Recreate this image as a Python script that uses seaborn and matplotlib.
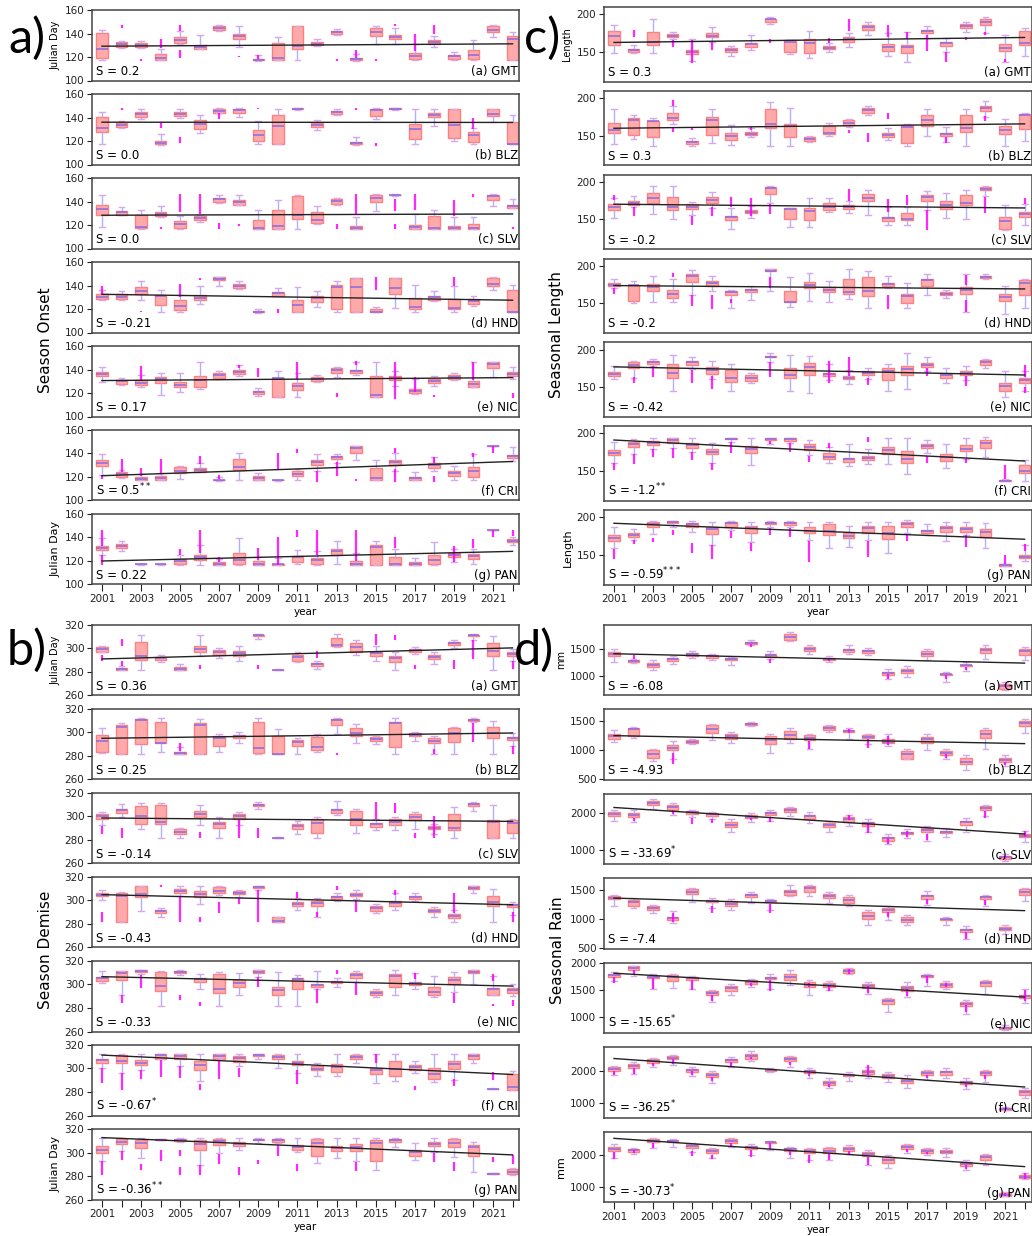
import numpy as np
import pandas as pd
import seaborn as sns
import matplotlib.pyplot as plt

YEARS = list(range(2001, 2023))
REGIONS = ["GMT", "BLZ", "SLV", "HND", "NIC", "CRI", "PAN"]
LETTERS = ["a", "b", "c", "d", "e", "f", "g"]

# every box row: (lower whisker, q1, median, q3, upper whisker), one per year 2001..2022
# flier lists: (year, low, high) extent of the magenta outlier streaks

# ---------------- a) season onset ----------------
ON_GMT = [(117.7, 118.9, 127.0, 140.6, 143.4), (128.0, 128.6, 131.0, 132.6, 134.0), (128.0, 128.6, 130.5, 132.3, 134.0),
          (117.5, 117.7, 119.4, 122.3, 127.0), (131.0, 132.3, 134.3, 136.6, 142.3), (126.5, 127.1, 128.6, 130.0, 138.6),
          (142.3, 142.9, 144.6, 146.3, 147.0), (128.6, 135.7, 137.7, 140.0, 146.3), (117.0, 117.1, 117.4, 118.0, 121.7),
          (117.5, 117.7, 119.1, 132.3, 136.6), (117.7, 127.1, 129.0, 146.3, 146.5), (129.5, 130.0, 131.4, 132.6, 135.7),
          (139.0, 139.4, 140.9, 142.0, 143.7), (117.0, 117.1, 118.3, 119.4, 122.9), (131.4, 138.0, 140.9, 144.6, 146.6),
          (131.4, 134.9, 137.1, 138.6, 144.3), (117.5, 118.6, 120.9, 123.4, 131.4), (128.6, 131.1, 133.1, 134.3, 137.7),
          (117.5, 118.6, 120.6, 122.0, 124.3), (117.5, 118.0, 121.4, 125.7, 134.3), (136.6, 140.9, 142.9, 146.6, 147.0),
          (117.5, 117.7, 135.1, 137.7, 141.4)]
ON_GMT_FL = [(2002, 145, 147), (2003, 117, 118), (2004, 128, 135), (2005, 142, 147), (2005, 119, 126), (2008, 120, 121),
             (2009, 118, 122), (2013, 117, 118), (2014, 119, 126), (2015, 117, 118), (2016, 146, 148), (2017, 125, 140),
             (2018, 140, 147)]
ON_BLZ = [(117.4, 127.9, 130.7, 140.1, 144.7), (131.0, 131.6, 133.3, 135.0, 137.3), (138.4, 140.1, 143.0, 144.7, 146.9),
          (117.0, 117.4, 118.5, 119.7, 125.9), (140.0, 141.2, 143.0, 144.7, 146.9), (126.5, 130.5, 134.1, 137.8, 142.1),
          (143.5, 144.1, 145.8, 147.5, 147.8), (140.1, 144.1, 146.1, 147.5, 147.8), (117.4, 119.9, 125.3, 129.3, 137.3),
          (117.4, 117.5, 133.0, 142.1, 146.9), (146.8, 146.9, 147.3, 147.8, 148.0), (129.3, 132.2, 133.6, 135.0, 137.8),
          (142.0, 143.0, 144.4, 145.8, 146.9), (117.0, 117.4, 118.0, 118.8, 123.6), (139.0, 141.2, 146.4, 147.5, 147.8),
          (146.8, 146.9, 147.3, 147.8, 148.0), (117.4, 121.4, 129.9, 134.1, 146.9), (132.7, 140.1, 142.1, 143.5, 146.9),
          (120.2, 122.8, 134.0, 146.9, 147.5), (117.4, 119.4, 125.3, 127.9, 130.7), (136.4, 141.2, 143.0, 146.9, 147.5),
          (117.4, 117.5, 117.6, 136.1, 142.1)]
ON_BLZ_FL = [(2002, 146, 148), (2004, 130.7, 136.4), (2005, 118.5, 123.6), (2007, 139, 143.5), (2009, 147, 148),
             (2014, 146, 148), (2015, 116, 118), (2020, 130, 140)]
ON_SLV = [(118.0, 128.6, 133.7, 136.6, 145.7), (128.5, 128.9, 130.9, 132.3, 135.1), (117.0, 117.4, 118.3, 128.6, 133.1),
          (127.0, 127.4, 129.4, 130.9, 136.0), (117.0, 117.4, 120.9, 123.1, 128.0), (122.3, 124.6, 126.0, 128.0, 128.6),
          (139.0, 139.4, 142.0, 143.4, 145.7), (137.0, 137.4, 139.4, 141.4, 145.7), (116.6, 116.7, 117.4, 124.3, 133.1),
          (116.6, 116.7, 118.9, 132.9, 141.7), (116.6, 125.1, 128.9, 144.3, 145.7), (121.0, 121.4, 124.3, 130.9, 136.0),
          (137.0, 138.0, 140.3, 142.3, 143.4), (116.6, 116.7, 117.6, 118.9, 126.6), (132.3, 140.0, 143.4, 145.7, 146.0),
          (145.0, 145.3, 145.5, 145.8, 146.0), (116.6, 116.7, 118.3, 120.0, 129.4), (116.6, 116.7, 117.4, 128.0, 133.1),
          (116.6, 116.7, 117.8, 119.4, 126.6), (116.6, 116.7, 117.8, 120.9, 126.6), (136.0, 141.4, 145.1, 145.7, 146.0),
          (134.3, 134.4, 136.0, 137.4, 142.3)]
ON_SLV_FL = [(2004, 116.5, 118), (2005, 131, 146.6), (2006, 129, 146.6), (2007, 116.5, 122), (2008, 119, 121),
             (2013, 117, 121), (2014, 129, 146), (2016, 132, 142), (2016, 117, 121), (2017, 133, 146.6),
             (2019, 128, 141), (2020, 143.7, 146.6), (2022, 116.6, 118.3)]
ON_HND = [(127.7, 128.6, 130.6, 132.6, 136.3), (127.7, 128.6, 130.6, 132.6, 135.4), (127.7, 132.6, 135.7, 138.9, 144.0),
          (117.7, 123.4, 131.4, 132.0, 136.3), (117.7, 119.1, 122.3, 127.7, 132.0), (124.0, 127.7, 129.7, 132.0, 140.0),
          (140.0, 144.3, 145.7, 146.9, 147.5), (137.0, 137.7, 139.7, 141.1, 144.0), (117.0, 117.1, 117.7, 118.6, 120.0),
          (131.0, 131.1, 133.4, 134.6, 137.7), (117.1, 117.7, 123.4, 127.7, 138.3), (122.0, 126.3, 129.7, 131.1, 134.9),
          (117.1, 120.0, 138.3, 140.6, 144.0), (117.1, 117.2, 138.3, 146.3, 146.4), (117.1, 117.2, 117.7, 120.0, 121.4),
          (121.1, 133.1, 137.7, 146.3, 146.4), (117.1, 120.0, 121.4, 129.1, 140.6), (126.9, 127.7, 130.0, 131.4, 134.9),
          (117.1, 119.7, 121.1, 128.3, 140.0), (122.9, 124.0, 126.9, 128.3, 130.9), (136.3, 140.0, 141.7, 146.0, 146.9),
          (117.1, 117.2, 117.3, 136.0, 140.6)]
ON_HND_FL = [(2001, 133, 140), (2003, 117.5, 118.5), (2005, 130, 141), (2006, 145, 146), (2010, 116.6, 120),
             (2015, 136, 147), (2019, 140, 147)]
ON_NIC = [(129.4, 134.6, 136.3, 138.0, 142.3), (126.5, 128.0, 130.0, 131.4, 133.1), (125.1, 127.1, 128.9, 130.9, 135.1),
          (118.6, 128.9, 131.7, 133.4, 137.4), (120.9, 125.1, 127.1, 129.4, 136.6), (123.7, 125.1, 130.9, 134.3, 146.6),
          (132.3, 132.9, 135.1, 136.6, 138.6), (134.6, 136.0, 138.0, 139.4, 143.7), (117.4, 119.1, 120.6, 121.4, 124.3),
          (116.6, 116.7, 132.9, 133.1, 139.1), (116.6, 122.3, 126.0, 128.9, 137.4), (129.4, 130.0, 132.3, 133.4, 134.9),
          (134.0, 137.4, 139.7, 140.9, 142.3), (135.7, 136.6, 138.3, 139.4, 146.6), (116.6, 116.7, 118.0, 134.3, 146.6),
          (126.0, 130.9, 132.9, 134.3, 138.6), (119.4, 120.3, 122.0, 123.1, 132.3), (126.0, 128.9, 130.3, 131.7, 134.3),
          (131.4, 132.3, 134.0, 135.1, 136.6), (125.0, 125.1, 128.0, 130.0, 146.0), (133.7, 140.9, 145.1, 146.0, 146.6),
          (132.3, 134.6, 136.3, 138.0, 142.3)]
ON_NIC_FL = [(2003, 131, 143), (2008, 141, 144), (2009, 134, 141), (2011, 131, 146.6), (2013, 117, 120),
             (2014, 144, 147), (2016, 115, 146.6), (2017, 121, 134), (2018, 117, 118), (2020, 131, 146.6),
             (2022, 116, 120)]
ON_CRI = [(122.0, 129.0, 131.8, 134.6, 139.7), (119.4, 120.0, 122.5, 123.9, 126.0), (117.2, 117.3, 118.6, 120.0, 122.8),
          (117.2, 117.3, 119.2, 120.6, 123.4), (118.0, 123.4, 125.4, 128.2, 129.0), (123.9, 124.0, 125.6, 127.6, 131.5),
          (117.0, 117.2, 117.5, 117.7, 120.0), (117.2, 125.6, 128.2, 135.2, 140.3), (117.7, 117.8, 119.2, 120.6, 123.4),
          (117.0, 117.1, 117.3, 117.5, 117.6), (117.7, 121.1, 122.8, 124.8, 126.8), (124.8, 130.4, 132.4, 134.6, 139.7),
          (131.5, 135.2, 136.6, 138.0, 139.7), (134.6, 140.3, 144.5, 146.5, 146.6), (117.2, 117.3, 119.2, 127.6, 134.6),
          (124.8, 130.4, 133.0, 134.6, 140.0), (117.2, 117.7, 118.9, 120.0, 123.9), (124.8, 127.6, 129.9, 131.8, 136.6),
          (117.2, 121.1, 123.4, 124.8, 129.0), (117.7, 120.0, 125.4, 128.2, 139.7), (146.0, 146.2, 146.4, 146.5, 146.6),
          (133.8, 136.1, 137.5, 138.9, 145.4)]
ON_CRI_FL = [(2001, 118, 122), (2002, 124, 135), (2003, 121, 128), (2004, 122.5, 135.5), (2006, 131, 138),
             (2007, 118, 122), (2010, 126, 140), (2011, 140, 144), (2012, 116, 125), (2013, 121, 133),
             (2014, 116.5, 118.5), (2016, 116, 127), (2016, 140, 145), (2018, 116, 121), (2018, 132, 137),
             (2020, 137, 140), (2021, 140, 146)]
ON_PAN = [(125.4, 129.0, 130.7, 132.4, 139.4), (128.2, 131.0, 133.0, 134.6, 136.6), (116.9, 117.1, 117.3, 117.5, 117.7),
          (116.9, 117.1, 117.3, 117.5, 117.7), (116.9, 117.7, 119.7, 121.7, 125.4), (116.9, 121.1, 123.4, 125.4, 133.8),
          (116.9, 117.0, 117.3, 118.9, 121.7), (116.9, 117.7, 120.6, 126.8, 139.4), (116.9, 117.0, 117.7, 119.7, 123.7),
          (116.9, 117.0, 117.3, 117.7, 122.5), (117.7, 118.9, 123.4, 124.5, 129.6), (116.9, 117.7, 121.1, 122.5, 128.2),
          (117.7, 125.4, 128.2, 130.1, 136.6), (116.9, 117.0, 117.7, 119.7, 126.8), (116.9, 117.0, 131.8, 133.8, 136.6),
          (116.9, 117.0, 117.3, 123.4, 130.1), (116.9, 117.0, 117.7, 118.9, 122.5), (116.9, 117.7, 120.6, 125.4, 135.8),
          (119.4, 123.4, 125.4, 126.8, 130.1), (117.7, 121.7, 124.5, 125.9, 130.1), (146.0, 146.2, 146.4, 146.6, 146.8),
          (133.8, 135.8, 137.2, 138.6, 140.3)]
ON_PAN_FL = [(2001, 133, 146), (2001, 117, 125), (2005, 125.5, 130), (2006, 127, 146), (2007, 119, 123),
             (2009, 121, 131), (2010, 117, 140), (2011, 140.3, 146), (2012, 125, 146), (2014, 120, 146),
             (2016, 131, 140), (2019, 119, 133), (2020, 131, 139), (2021, 140, 146), (2022, 141, 146)]

ONSET_TREND = [(129.2, 131.2), (136.0, 135.8), (128.3, 129.4), (132.5, 127.5), (130.6, 133.1), (121.1, 133.2), (120.0, 128.2)]
ONSET_S = ["0.2", "0.0", "0.0", "-0.21", "0.17", "0.5$^{**}$", "0.22"]

# ---------------- b) season demise ----------------
DE_GMT = [(296.6, 297.1, 299.4, 300.9, 302.3), (281.5, 281.7, 282.3, 282.9, 285.1), (281.7, 290.3, 293.7, 305.7, 311.4),
          (288.6, 290.0, 291.4, 292.9, 294.3), (281.5, 281.7, 282.6, 283.7, 286.6), (293.7, 297.1, 299.4, 302.3, 311.4),
          (291.4, 294.3, 296.6, 298.6, 300.0), (289.4, 293.7, 295.7, 297.4, 302.3), (308.0, 310.0, 310.9, 311.4, 312.3),
          (281.3, 281.5, 281.7, 281.9, 282.1), (288.6, 289.4, 292.3, 294.3, 296.6), (282.3, 285.1, 286.3, 287.4, 289.4),
          (300.9, 301.7, 303.1, 308.6, 312.3), (294.3, 297.1, 300.9, 304.6, 306.6), (289.4, 293.7, 295.7, 297.1, 302.3),
          (281.7, 288.0, 291.7, 293.7, 297.1), (295.1, 297.1, 298.3, 299.4, 300.9), (286.6, 290.9, 292.9, 294.3, 296.6),
          (300.0, 302.9, 304.6, 305.7, 307.4), (306.6, 310.0, 310.9, 311.4, 312.3), (281.7, 293.7, 298.0, 304.3, 310.3),
          (289.4, 293.1, 294.9, 296.6, 299.4)]
DE_GMT_FL = [(2001, 289, 294), (2002, 302, 308), (2002, 285, 289), (2006, 282, 286), (2009, 282, 286),
             (2012, 292, 298), (2015, 303, 312), (2016, 307, 311), (2017, 282, 286), (2019, 282, 290),
             (2020, 291, 307), (2022, 282, 289)]
DE_BLZ = [(282.3, 282.9, 292.9, 298.0, 303.4), (281.2, 281.4, 304.3, 306.3, 307.7), (281.2, 290.0, 310.6, 311.4, 312.0),
          (282.9, 290.6, 290.9, 309.1, 312.0), (281.2, 281.4, 282.0, 283.4, 287.1), (281.2, 281.4, 306.6, 308.0, 310.9),
          (282.9, 288.6, 294.9, 296.6, 298.6), (290.9, 294.9, 297.1, 298.0, 300.0), (281.2, 282.3, 286.3, 309.1, 312.0),
          (281.2, 281.4, 281.5, 297.1, 302.9), (281.4, 288.6, 291.4, 293.7, 294.9), (283.4, 284.9, 287.1, 295.7, 298.6),
          (298.6, 306.3, 310.6, 311.4, 312.0), (290.9, 297.1, 299.4, 303.4, 307.1), (290.0, 292.9, 294.3, 295.7, 297.1),
          (281.2, 287.1, 307.7, 309.1, 312.0), (292.9, 296.6, 298.0, 299.4, 300.6), (281.4, 290.9, 292.9, 294.9, 297.1),
          (281.2, 292.0, 299.4, 303.7, 304.3), (308.6, 310.0, 310.6, 311.4, 312.0), (281.2, 294.9, 299.4, 304.3, 309.4),
          (288.6, 293.7, 295.1, 296.3, 299.4)]
DE_BLZ_FL = [(2005, 284, 291), (2013, 281, 282), (2018, 281.5, 286), (2020, 292, 308), (2022, 281.5, 288)]
DE_SLV = [(292.3, 298.0, 300.3, 302.0, 303.7), (299.4, 303.1, 305.1, 306.6, 310.6), (288.9, 293.1, 300.3, 308.6, 311.4),
          (281.4, 293.7, 295.1, 310.0, 311.4), (282.0, 285.1, 287.1, 288.9, 290.0), (292.3, 299.4, 302.3, 304.3, 310.0),
          (281.4, 290.0, 293.4, 295.1, 299.4), (292.3, 297.4, 300.3, 302.0, 303.7), (306.0, 308.6, 309.6, 310.9, 312.3),
          (281.3, 281.5, 281.7, 281.9, 282.1), (285.1, 288.9, 291.7, 293.7, 295.7), (281.4, 286.0, 294.6, 298.0, 299.4),
          (300.9, 303.1, 305.4, 306.6, 312.9), (286.0, 292.3, 297.4, 304.9, 306.6), (288.0, 290.9, 293.1, 294.6, 298.0),
          (288.0, 292.9, 295.1, 297.4, 299.4), (288.9, 296.6, 299.4, 302.0, 303.7), (285.1, 288.9, 290.3, 291.7, 293.7),
          (281.4, 288.0, 290.0, 302.3, 308.0), (304.3, 308.6, 310.3, 311.4, 312.3), (281.2, 281.4, 295.1, 296.6, 310.0),
          (281.4, 286.0, 294.6, 296.6, 298.0)]
DE_SLV_FL = [(2001, 285, 292), (2002, 282, 290), (2006, 282, 287), (2008, 282, 297), (2009, 282, 290),
             (2015, 298, 312), (2016, 303, 311), (2017, 281.5, 286), (2018, 282, 300)]
DE_HND = [(300.0, 303.4, 304.9, 306.3, 308.6), (281.8, 282.0, 304.0, 306.3, 307.1), (291.4, 302.9, 305.7, 312.0, 312.2),
          (286.3, 289.1, 290.6, 292.0, 293.4), (304.0, 306.3, 308.3, 309.7, 312.0), (297.1, 302.9, 305.7, 307.7, 312.0),
          (304.9, 306.3, 307.7, 311.4, 312.6), (302.9, 305.4, 306.6, 307.7, 308.6), (309.1, 310.6, 311.4, 312.0, 312.6),
          (281.8, 282.0, 282.9, 285.7, 286.3), (292.0, 294.9, 296.6, 298.3, 302.0), (286.3, 295.4, 297.7, 299.1, 302.0),
          (299.1, 301.1, 302.9, 304.0, 306.3), (301.1, 303.4, 304.9, 306.3, 308.6), (289.7, 291.4, 293.4, 294.9, 297.1),
          (292.0, 294.9, 297.7, 299.1, 306.3), (299.1, 301.1, 302.9, 304.0, 306.3), (286.3, 290.0, 291.4, 292.6, 294.3),
          (282.0, 284.9, 286.9, 288.6, 292.0), (306.3, 309.7, 310.9, 312.0, 312.6), (282.0, 295.4, 298.3, 304.0, 309.7),
          (287.7, 294.3, 295.7, 297.1, 298.3)]
DE_HND_FL = [(2001, 282, 290), (2004, 311, 313), (2005, 282, 303), (2006, 282, 286), (2007, 289, 299),
             (2008, 297, 302), (2009, 282, 309), (2011, 302, 307), (2012, 286, 290), (2013, 309, 312),
             (2014, 290, 300), (2016, 305, 309), (2019, 289, 306), (2022, 282, 290)]
DE_NIC = [(300.9, 302.9, 305.1, 306.6, 311.4), (291.4, 303.7, 310.0, 311.4, 311.8), (308.6, 310.6, 311.4, 312.0, 312.2),
          (282.0, 294.3, 298.6, 310.6, 311.4), (307.7, 310.0, 310.9, 311.4, 312.0), (295.7, 302.0, 304.9, 305.7, 309.1),
          (282.0, 292.3, 295.7, 308.6, 310.9), (290.6, 297.7, 301.4, 303.7, 309.4), (306.6, 310.0, 310.9, 312.0, 312.2),
          (282.0, 291.4, 294.9, 298.0, 310.6), (282.0, 295.7, 304.9, 305.7, 307.7), (295.7, 297.7, 299.1, 300.6, 311.4),
          (298.0, 300.9, 302.0, 302.9, 305.1), (302.0, 305.7, 308.0, 310.0, 311.4), (289.4, 291.4, 292.9, 294.3, 295.7),
          (291.4, 298.0, 307.1, 308.9, 312.0), (296.3, 299.1, 300.9, 302.0, 310.0), (289.4, 291.4, 293.4, 298.0, 307.1),
          (293.4, 300.0, 303.7, 306.3, 310.9), (300.0, 310.0, 310.9, 312.0, 312.2), (291.0, 291.4, 295.7, 297.1, 307.1),
          (290.0, 292.3, 295.1, 297.1, 300.0)]
DE_NIC_FL = [(2002, 284, 291), (2003, 297, 308), (2005, 287, 291), (2006, 282, 285), (2009, 298, 306),
             (2012, 284, 296), (2013, 309, 312), (2014, 291, 302), (2017, 305, 310), (2019, 284, 293),
             (2021, 303, 309), (2021, 281.5, 283), (2022, 282, 287)]
DE_CRI = [(300.6, 304.3, 306.9, 308.3, 312.0), (296.3, 304.3, 306.3, 311.1, 312.0), (299.1, 302.6, 304.9, 307.1, 312.0),
          (307.7, 308.3, 311.1, 312.0, 312.2), (302.0, 307.7, 310.6, 312.0, 312.2), (289.1, 298.6, 302.6, 306.3, 312.0),
          (307.7, 308.3, 310.6, 312.0, 312.2), (302.0, 305.4, 308.6, 310.6, 312.0), (307.7, 310.6, 311.4, 312.0, 312.2),
          (300.6, 307.7, 309.4, 311.1, 312.0), (296.3, 302.6, 304.6, 306.3, 312.0), (293.4, 298.6, 299.7, 302.0, 304.9),
          (293.4, 296.9, 301.4, 303.4, 312.0), (304.9, 307.7, 309.4, 311.1, 312.0), (287.7, 295.7, 299.1, 300.6, 312.0),
          (289.1, 293.4, 299.7, 306.3, 312.0), (296.3, 298.6, 301.4, 302.6, 306.3), (288.3, 291.4, 294.9, 300.6, 312.0),
          (290.6, 299.7, 303.4, 306.3, 312.0), (304.3, 308.3, 310.6, 312.0, 312.2), (282.2, 282.4, 282.6, 282.8, 283.0),
          (281.8, 282.0, 284.0, 294.9, 297.7)]
DE_CRI_FL = [(2001, 288, 300), (2002, 282, 296), (2003, 291, 299), (2004, 293, 307), (2005, 292, 302),
             (2006, 282, 287), (2007, 291, 307), (2008, 293, 300), (2011, 287, 299), (2015, 305, 312),
             (2017, 282, 285), (2019, 285, 291), (2021, 290, 297)]
DE_PAN = [(293.2, 300.0, 302.3, 305.6, 312.1), (301.4, 307.0, 309.3, 311.3, 312.1), (295.2, 304.2, 308.5, 310.7, 312.1),
          (310.5, 310.7, 311.0, 311.5, 311.8), (309.3, 309.9, 310.5, 311.5, 312.1), (289.6, 302.3, 307.0, 310.7, 312.1),
          (299.4, 306.5, 309.9, 311.3, 312.1), (302.3, 305.6, 307.3, 309.3, 312.1), (307.9, 310.7, 311.0, 311.5, 312.1),
          (307.9, 309.3, 310.4, 311.3, 312.1), (300.8, 302.3, 305.1, 306.5, 312.1), (291.5, 297.2, 307.9, 311.3, 312.1),
          (295.2, 301.7, 304.2, 305.6, 312.1), (292.4, 301.7, 304.5, 307.3, 312.1), (285.4, 293.0, 307.9, 310.7, 312.1),
          (305.1, 309.3, 310.4, 311.3, 312.1), (293.8, 297.2, 300.3, 302.3, 307.9), (300.8, 305.6, 307.3, 309.3, 312.1),
          (296.1, 305.1, 308.5, 311.3, 312.1), (283.1, 297.2, 305.1, 306.5, 309.3), (281.6, 281.8, 282.0, 282.2, 282.4),
          (281.1, 281.7, 283.1, 285.9, 286.8)]
DE_PAN_FL = [(2001, 281, 293), (2002, 294, 301), (2003, 285, 290), (2004, 293, 302), (2005, 281, 288),
             (2005, 297, 302), (2006, 281, 289), (2007, 290, 299), (2008, 281, 288), (2009, 290, 294),
             (2010, 297, 306), (2011, 284, 290), (2014, 284, 292), (2018, 292, 300), (2019, 284, 292),
             (2021, 292, 296), (2022, 290, 298)]

DEMISE_TREND = [(290.9, 300.3), (294.9, 299.4), (298.6, 295.7), (304.9, 296.3), (306.6, 298.6), (311.4, 294.9), (312.7, 298.0)]
DEMISE_S = ["0.36", "0.25", "-0.14", "-0.43", "-0.33", "-0.67$^{*}$", "-0.36$^{**}$"]

# ---------------- c) seasonal length ----------------
LE_GMT = [(147.8, 158.8, 170.8, 177.4, 185.4), (147.8, 150.0, 151.8, 153.5, 158.8), (147.8, 158.8, 163.3, 175.7, 194.2),
          (166.4, 169.0, 171.2, 173.5, 175.7), (137.6, 146.5, 149.1, 152.2, 166.4), (163.3, 169.0, 171.2, 174.3, 182.3),
          (144.2, 150.0, 152.2, 154.4, 158.0), (152.2, 156.6, 160.2, 161.9, 172.1), (186.7, 189.8, 192.9, 194.2, 195.6),
          (146.9, 150.0, 163.3, 165.5, 166.0), (142.0, 147.8, 161.1, 166.4, 177.9), (150.0, 153.1, 155.3, 157.5, 161.1),
          (156.6, 162.4, 166.4, 169.0, 175.2), (172.1, 178.8, 182.3, 185.4, 189.4), (144.2, 150.9, 156.6, 159.7, 174.3),
          (136.7, 148.7, 155.8, 158.8, 175.7), (167.7, 174.3, 177.0, 179.6, 184.1), (150.0, 158.0, 161.1, 163.3, 167.7),
          (176.5, 181.0, 184.1, 186.3, 189.8), (174.3, 185.4, 189.8, 193.4, 195.6), (136.7, 150.9, 155.3, 160.2, 172.1),
          (144.2, 158.8, 162.0, 177.9, 181.9)]
LE_GMT_FL = [(2002, 170, 179), (2004, 157, 166), (2005, 135, 166), (2006, 152, 163), (2009, 161, 167),
             (2012, 161, 168), (2013, 178, 194), (2015, 170, 185), (2016, 167, 176), (2017, 151, 172),
             (2018, 137, 150), (2019, 165, 170), (2020, 172, 176), (2021, 136, 140)]
LE_BLZ = [(138.8, 153.1, 157.6, 167.4, 185.3), (145.0, 150.9, 171.0, 173.2, 176.8), (136.2, 147.8, 168.8, 169.6, 173.2),
          (165.6, 171.0, 173.2, 179.9, 188.8), (136.6, 138.8, 141.1, 143.3, 146.4), (140.6, 150.9, 170.1, 175.4, 185.3),
          (137.5, 144.2, 149.6, 153.1, 164.3), (147.8, 150.9, 152.2, 154.5, 159.8), (136.2, 159.8, 165.6, 185.3, 194.2),
          (136.2, 148.7, 162.9, 165.2, 186.6), (142.0, 143.3, 145.1, 147.8, 149.6), (149.6, 152.2, 154.0, 162.9, 167.4),
          (162.0, 164.3, 167.4, 170.1, 171.9), (177.7, 179.9, 184.4, 186.6, 189.7), (144.2, 147.8, 150.4, 153.1, 159.8),
          (136.2, 140.6, 162.0, 164.3, 165.2), (149.6, 162.9, 170.1, 177.7, 185.3), (142.0, 149.6, 151.8, 154.0, 162.0),
          (136.2, 155.4, 159.8, 177.7, 185.3), (175.4, 182.1, 186.2, 189.7, 195.5), (136.2, 151.8, 157.6, 162.9, 171.9),
          (142.9, 158.5, 177.2, 178.6, 179.9)]
LE_BLZ_FL = [(2004, 189, 197), (2004, 155, 160), (2005, 158, 162), (2008, 158, 161), (2013, 153, 158),
             (2014, 141, 153), (2015, 172, 180), (2018, 140, 148), (2020, 170, 176)]
LE_SLV = [(152.3, 162.6, 166.2, 170.3, 178.4), (167.1, 169.4, 172.5, 174.8, 180.6), (156.8, 172.5, 178.4, 185.1, 194.1),
          (150.0, 162.6, 167.1, 179.7, 194.1), (155.9, 163.5, 166.7, 170.3, 173.0), (165.8, 171.6, 175.7, 179.7, 186.5),
          (137.8, 149.1, 152.7, 154.5, 165.0), (151.4, 158.1, 160.4, 162.6, 168.5), (171.6, 183.8, 191.9, 193.2, 194.6),
          (140.0, 150.0, 163.5, 164.9, 165.5), (140.0, 149.1, 161.3, 164.9, 178.4), (160.4, 162.6, 166.2, 171.6, 178.4),
          (158.1, 163.5, 166.2, 169.4, 173.9), (155.9, 173.9, 177.9, 183.8, 189.6), (142.3, 147.7, 151.4, 153.6, 167.1),
          (142.3, 149.1, 150.0, 158.1, 167.1), (162.6, 173.9, 180.2, 182.0, 187.4), (151.4, 163.5, 169.4, 173.9, 185.1),
          (150.0, 169.4, 172.5, 182.9, 189.6), (180.6, 188.7, 191.0, 193.2, 194.1), (135.6, 137.8, 148.2, 152.7, 169.4),
          (142.3, 152.7, 157.7, 160.4, 170.3)]
LE_SLV_FL = [(2001, 176, 183), (2002, 155, 166), (2005, 142, 155), (2006, 155, 166), (2007, 166, 180),
             (2008, 155, 178), (2009, 157, 171), (2013, 175, 190), (2015, 160, 177), (2016, 169, 183),
             (2017, 136, 163), (2020, 158, 180), (2022, 170, 178)]
LE_HND = [(170.5, 172.7, 175.0, 177.3, 181.8), (150.0, 153.2, 174.1, 175.0, 179.5), (151.4, 165.9, 171.4, 175.9, 186.4),
          (151.4, 157.7, 162.3, 168.2, 181.8), (161.4, 178.6, 186.4, 189.5, 194.1), (165.9, 172.7, 176.4, 179.5, 186.4),
          (143.2, 160.5, 165.0, 166.8, 168.2), (154.5, 165.0, 167.3, 169.5, 172.7), (165.9, 192.3, 193.6, 195.0, 195.9),
          (145.5, 151.4, 152.3, 165.9, 185.0), (153.2, 170.5, 174.1, 178.6, 190.9), (151.4, 165.0, 168.2, 171.4, 179.5),
          (155.9, 162.7, 165.0, 182.7, 195.0), (144.1, 159.1, 166.8, 185.5, 192.3), (170.5, 172.7, 175.5, 176.8, 186.4),
          (144.1, 150.9, 159.1, 162.3, 176.4), (160.5, 172.7, 180.5, 182.7, 188.6), (156.8, 160.5, 162.3, 164.5, 168.2),
          (138.6, 162.3, 168.2, 171.4, 188.6), (181.8, 183.2, 185.0, 186.4, 189.5), (136.4, 153.2, 158.2, 162.3, 172.7),
          (144.1, 160.5, 177.3, 180.5, 181.8)]
LE_HND_FL = [(2001, 163, 170), (2004, 185, 190), (2005, 147, 161), (2006, 143, 161), (2007, 150, 156),
             (2009, 170, 185), (2015, 143, 161), (2019, 175, 188), (2019, 139, 154)]
LE_NIC = [(160.4, 164.9, 168.0, 170.7, 178.4), (162.6, 175.2, 179.7, 182.9, 185.1), (178.4, 180.6, 183.3, 185.1, 187.4),
          (145.5, 162.6, 169.4, 180.6, 193.2), (173.9, 179.7, 182.9, 185.1, 190.5), (160.4, 168.0, 173.0, 177.0, 185.1),
          (145.5, 157.2, 162.6, 172.5, 180.6), (155.9, 158.1, 161.7, 166.2, 169.4), (182.9, 189.6, 190.5, 191.9, 195.0),
          (145.5, 161.7, 166.2, 176.1, 193.2), (142.3, 166.2, 177.0, 181.5, 191.9), (159.0, 164.9, 167.1, 169.4, 180.6),
          (153.6, 160.4, 162.6, 164.9, 172.5), (160.4, 166.2, 168.9, 171.6, 176.1), (144.6, 159.0, 171.6, 176.1, 180.6),
          (148.2, 166.2, 173.9, 177.5, 195.0), (171.6, 177.0, 179.3, 181.5, 189.6), (155.9, 162.6, 166.2, 168.0, 176.1),
          (159.0, 166.2, 169.4, 171.6, 178.4), (175.2, 179.7, 182.9, 186.0, 187.4), (136.5, 145.5, 150.9, 155.9, 171.6),
          (144.6, 155.0, 159.0, 161.7, 171.6)]
LE_NIC_FL = [(2002, 155, 164), (2003, 163, 178), (2005, 155, 173), (2006, 147, 165), (2009, 164, 183),
             (2012, 155, 185), (2013, 165, 190), (2014, 153, 162), (2017, 165, 176), (2019, 152, 165),
             (2022, 142, 150), (2022, 163, 180)]
LE_CRI = [(161.1, 171.2, 174.3, 177.9, 188.5), (172.1, 181.9, 186.3, 188.9, 192.9), (178.8, 184.5, 187.2, 189.8, 194.2),
          (181.0, 187.6, 191.2, 194.2, 194.4), (175.2, 181.0, 185.0, 187.6, 193.8), (161.1, 172.1, 175.7, 179.6, 187.6),
          (188.5, 192.0, 193.0, 194.2, 194.4), (157.5, 173.5, 179.6, 183.2, 194.2), (185.4, 190.7, 192.5, 194.2, 194.4),
          (186.7, 189.8, 192.5, 194.2, 194.4), (170.8, 177.9, 181.9, 185.4, 191.2), (161.1, 166.4, 168.6, 173.5, 182.3),
          (156.6, 162.4, 165.5, 167.7, 185.4), (158.8, 164.2, 167.3, 169.9, 178.8), (158.8, 172.1, 177.9, 182.3, 194.2),
          (145.6, 161.1, 166.4, 176.5, 194.2), (174.3, 181.0, 183.2, 185.4, 191.2), (154.4, 163.3, 168.6, 173.0, 185.4),
          (165.5, 176.5, 179.6, 184.1, 194.2), (169.0, 181.0, 186.7, 191.2, 195.6), (136.8, 137.0, 137.3, 138.5, 139.0),
          (136.7, 147.8, 150.0, 158.0, 164.6)]
LE_CRI_FL = [(2001, 152, 161), (2002, 159, 172), (2003, 169, 179), (2004, 167, 181), (2005, 165, 175),
             (2006, 152, 161), (2007, 174, 188), (2009, 186, 190), (2010, 175, 187), (2011, 162, 170),
             (2012, 181, 187), (2014, 188, 195), (2017, 160, 170), (2019, 160, 166), (2021, 139, 158)]
LE_PAN = [(158.8, 169.0, 172.1, 176.5, 186.7), (169.9, 174.3, 176.5, 178.8, 184.1), (177.9, 186.7, 191.2, 194.2, 195.6),
          (187.6, 192.9, 194.0, 195.1, 195.6), (181.0, 186.7, 190.7, 192.9, 195.6), (163.3, 177.9, 184.5, 187.6, 194.2),
          (183.2, 186.7, 192.9, 194.2, 195.6), (167.7, 179.6, 185.4, 188.5, 194.2), (187.6, 191.2, 193.0, 194.2, 195.6),
          (186.7, 189.8, 192.0, 193.4, 195.6), (169.9, 178.8, 181.9, 186.7, 194.2), (158.8, 176.5, 182.3, 190.7, 194.2),
          (161.1, 172.1, 175.7, 179.6, 188.5), (169.9, 179.6, 185.4, 188.5, 194.2), (152.2, 170.8, 178.8, 188.5, 194.2),
          (178.8, 186.7, 190.7, 193.4, 196.5), (176.5, 179.6, 181.9, 183.2, 191.2), (169.0, 181.0, 185.4, 188.5, 194.2),
          (176.5, 181.0, 184.5, 186.7, 194.2), (158.8, 173.5, 181.0, 184.1, 192.0), (135.4, 135.6, 136.5, 137.6, 138.0),
          (141.2, 145.6, 147.8, 150.0, 163.3)]
LE_PAN_FL = [(2001, 145, 158), (2002, 165, 170), (2003, 167, 172), (2004, 177, 183), (2005, 153, 166),
             (2006, 145, 163), (2007, 172, 182), (2008, 155, 166), (2009, 176, 186), (2010, 174, 186),
             (2011, 141, 169), (2014, 147, 168), (2016, 169, 178), (2019, 161, 176), (2021, 137.6, 150),
             (2022, 155, 164)]

LENGTH_TREND = [(162.4, 169.0), (159.8, 165.6), (170.3, 165.3), (173.6, 169.1), (177.0, 166.2), (191.2, 163.3), (192.0, 170.8)]
LENGTH_S = ["0.3", "0.3", "-0.2", "-0.2", "-0.42", "-1.2$^{**}$", "-0.59$^{***}$"]

# ---------------- d) seasonal rain ----------------
RA_GMT = [(1262, 1366, 1402, 1445, 1506), (1244, 1262, 1274, 1293, 1323), (1110, 1171, 1213, 1250, 1305),
          (1232, 1280, 1311, 1335, 1366), (1335, 1372, 1402, 1427, 1457), (1293, 1335, 1372, 1396, 1415),
          (1213, 1293, 1311, 1335, 1354), (1567, 1598, 1616, 1628, 1659), (1323, 1354, 1384, 1402, 1457),
          (1640, 1659, 1720, 1781, 1811), (1415, 1457, 1494, 1537, 1579), (1262, 1293, 1317, 1335, 1372),
          (1415, 1445, 1482, 1506, 1567), (1384, 1427, 1457, 1476, 1518), (957, 1030, 1055, 1079, 1128),
          (988, 1067, 1097, 1128, 1189), (1293, 1372, 1415, 1457, 1506), (908, 1018, 1036, 1048, 1079),
          (1091, 1183, 1201, 1213, 1262), (1323, 1433, 1476, 1518, 1567), (744, 774, 823, 866, 896),
          (1293, 1396, 1457, 1506, 1537)]
RA_GMT_FL = [(2002, 1311, 1390), (2008, 1530, 1590), (2009, 1250, 1320), (2012, 1280, 1320), (2015, 960, 1040),
             (2018, 960, 1030), (2019, 1110, 1180), (2021, 800, 860)]
RA_BLZ = [(1136, 1193, 1239, 1267, 1341), (1210, 1239, 1352, 1381, 1398), (813, 869, 926, 1000, 1023),
          (841, 1000, 1040, 1080, 1154), (1105, 1114, 1142, 1171, 1193), (1171, 1296, 1352, 1420, 1438),
          (1125, 1193, 1239, 1267, 1307), (1409, 1426, 1449, 1466, 1477), (943, 1097, 1171, 1239, 1267),
          (1125, 1182, 1250, 1324, 1381), (1023, 1171, 1210, 1250, 1267), (1307, 1341, 1375, 1409, 1420),
          (1193, 1307, 1324, 1341, 1381), (1097, 1210, 1227, 1250, 1267), (1068, 1114, 1142, 1182, 1267),
          (841, 852, 926, 983, 1012), (1000, 1114, 1182, 1227, 1267), (841, 909, 943, 983, 1023),
          (659, 756, 796, 869, 909), (1012, 1210, 1267, 1341, 1381), (728, 801, 830, 858, 909),
          (1296, 1409, 1455, 1494, 1523)]
RA_BLZ_FL = [(2004, 760, 950), (2011, 1020, 1160), (2013, 1290, 1360), (2014, 1040, 1180), (2015, 1080, 1240),
             (2018, 860, 940), (2021, 740, 790)]
RA_SLV = [(1784, 1901, 1964, 2009, 2054), (1739, 1874, 1937, 1982, 2054), (2099, 2189, 2252, 2306, 2369),
          (1937, 2072, 2135, 2189, 2261), (1874, 1964, 2009, 2036, 2054), (1829, 1901, 1955, 2000, 2027),
          (1486, 1604, 1676, 1739, 1829), (1757, 1847, 1892, 1937, 1991), (1784, 1937, 1982, 2027, 2054),
          (1919, 2009, 2063, 2117, 2144), (1721, 1829, 1901, 1946, 2009), (1486, 1604, 1676, 1721, 1784),
          (1649, 1757, 1829, 1874, 1937), (1468, 1649, 1712, 1757, 1829), (1153, 1243, 1306, 1351, 1423),
          (1306, 1423, 1450, 1486, 1559), (1243, 1486, 1531, 1577, 1649), (1333, 1441, 1477, 1514, 1577),
          (1468, 1667, 1739, 1784, 1847), (1901, 2054, 2117, 2162, 2207), (703, 748, 793, 838, 883),
          (1216, 1333, 1378, 1423, 1514)]
RA_SLV_FL = [(2002, 1760, 1850), (2004, 1950, 2080), (2005, 1700, 1860), (2006, 1720, 1830), (2008, 1800, 1860),
             (2009, 1750, 1870), (2013, 1800, 1920), (2014, 1450, 1700), (2015, 1150, 1320), (2016, 1350, 1500),
             (2017, 1250, 1420), (2020, 1850, 2050), (2021, 760, 830), (2022, 1330, 1500)]
RA_HND = [(1216, 1341, 1364, 1386, 1415), (1188, 1227, 1284, 1330, 1358), (1102, 1148, 1188, 1216, 1244),
          (932, 977, 1011, 1034, 1131), (1284, 1432, 1466, 1511, 1528), (1188, 1284, 1307, 1330, 1358),
          (1159, 1216, 1261, 1301, 1341), (1273, 1375, 1409, 1432, 1455), (1159, 1284, 1313, 1330, 1341),
          (1386, 1415, 1466, 1500, 1585), (1386, 1460, 1523, 1557, 1585), (1273, 1358, 1392, 1426, 1455),
          (1216, 1273, 1318, 1375, 1415), (904, 1006, 1057, 1114, 1159), (989, 1119, 1159, 1188, 1216),
          (904, 943, 989, 1034, 1074), (1244, 1341, 1386, 1415, 1472), (904, 977, 994, 1006, 1034),
          (648, 779, 807, 830, 887), (1216, 1341, 1369, 1386, 1415), (733, 807, 835, 864, 904),
          (1301, 1415, 1460, 1511, 1528)]
RA_HND_FL = [(2004, 940, 1110), (2006, 1100, 1230), (2009, 1100, 1260), (2015, 1030, 1120), (2017, 1260, 1340),
             (2019, 660, 770), (2020, 1240, 1320)]
RA_NIC = [(1679, 1752, 1788, 1812, 1848), (1770, 1885, 1921, 1945, 1952), (1527, 1727, 1752, 1770, 1800),
          (1545, 1679, 1739, 1788, 1812), (1527, 1691, 1727, 1752, 1770), (1285, 1406, 1449, 1488, 1509),
          (1406, 1485, 1539, 1588, 1618), (1558, 1618, 1655, 1691, 1709), (1527, 1709, 1733, 1752, 1800),
          (1606, 1691, 1739, 1800, 1873), (1406, 1558, 1606, 1648, 1691), (1509, 1570, 1606, 1630, 1667),
          (1800, 1830, 1861, 1891, 1921), (1436, 1545, 1588, 1618, 1648), (1103, 1242, 1297, 1345, 1364),
          (1376, 1497, 1545, 1588, 1648), (1588, 1739, 1764, 1788, 1812), (1527, 1570, 1594, 1630, 1667),
          (1073, 1206, 1242, 1285, 1315), (1436, 1588, 1630, 1667, 1691), (770, 782, 806, 830, 861),
          (1267, 1364, 1394, 1424, 1527)]
RA_NIC_FL = [(2001, 1640, 1740), (2002, 1780, 1880), (2003, 1530, 1720), (2005, 1500, 1690), (2006, 1300, 1410),
             (2008, 1580, 1640), (2009, 1490, 1700), (2011, 1560, 1640), (2012, 1480, 1580), (2013, 1810, 1900),
             (2014, 1450, 1590), (2016, 1390, 1520), (2017, 1630, 1760), (2018, 1560, 1640), (2019, 1100, 1230),
             (2022, 1300, 1500)]
RA_CRI = [(1898, 2020, 2082, 2133, 2184), (1918, 2102, 2163, 2224, 2286), (2153, 2275, 2326, 2377, 2428),
          (2204, 2377, 2428, 2479, 2530), (1847, 1980, 2031, 2082, 2133), (1643, 1816, 1888, 1949, 2020),
          (2153, 2306, 2357, 2408, 2459), (2326, 2408, 2490, 2561, 2632), (1980, 2020, 2041, 2071, 2102),
          (2153, 2326, 2408, 2459, 2490), (1796, 1959, 2000, 2041, 2102), (1490, 1572, 1633, 1694, 1796),
          (1694, 1847, 1888, 1918, 1980), (1796, 1929, 1990, 2051, 2153), (1674, 1796, 1857, 1918, 1980),
          (1490, 1643, 1714, 1776, 1878), (1745, 1898, 1949, 2000, 2051), (1796, 1898, 1969, 2020, 2102),
          (1439, 1592, 1663, 1714, 1796), (1674, 1878, 1939, 2000, 2051), (770, 796, 827, 858, 880),
          (1164, 1266, 1337, 1408, 1490)]
RA_CRI_FL = [(2001, 1900, 2010), (2002, 1930, 2100), (2003, 2170, 2280), (2004, 2250, 2380), (2005, 1880, 2000),
             (2006, 1700, 1830), (2007, 2180, 2310), (2008, 2380, 2450), (2010, 2200, 2300), (2011, 1850, 1960),
             (2012, 1520, 1600), (2014, 1900, 2200), (2017, 1800, 1900), (2019, 1500, 1600), (2020, 1750, 1900),
             (2021, 780, 850)]
RA_PAN = [(1896, 2135, 2198, 2260, 2344), (2031, 2104, 2146, 2188, 2208), (2208, 2396, 2448, 2490, 2521),
          (2260, 2417, 2448, 2469, 2490), (2104, 2229, 2281, 2333, 2386), (1896, 2052, 2115, 2177, 2208),
          (2260, 2385, 2438, 2490, 2521), (2000, 2188, 2240, 2292, 2344), (2156, 2365, 2396, 2417, 2438),
          (1896, 2125, 2177, 2229, 2260), (1844, 2073, 2135, 2188, 2229), (1844, 2052, 2135, 2208, 2260),
          (2031, 2135, 2188, 2260, 2313), (1687, 1969, 2031, 2104, 2156), (1583, 1760, 1844, 1948, 2000),
          (2073, 2188, 2260, 2313, 2344), (2000, 2073, 2125, 2177, 2208), (1948, 2052, 2104, 2156, 2208),
          (1531, 1656, 1719, 1792, 1844), (1687, 1844, 1927, 2000, 2031), (700, 718, 760, 802, 830),
          (1239, 1271, 1323, 1375, 1427)]
RA_PAN_FL = [(2001, 1880, 2100), (2002, 2060, 2150), (2003, 2230, 2380), (2005, 1980, 2130), (2006, 1870, 2000),
             (2007, 2280, 2380), (2008, 1950, 2150), (2009, 2200, 2380), (2010, 2000, 2120), (2011, 1760, 2000),
             (2012, 1850, 2050), (2013, 2030, 2130), (2014, 1680, 1950), (2016, 2080, 2180), (2017, 2030, 2100),
             (2019, 1550, 1700), (2021, 700, 800), (2022, 1240, 1420)]

RAIN_TREND = [(1415, 1244), (1244, 1108), (2135, 1423), (1358, 1142), (1818, 1376), (2408, 1510), (2521, 1635)]
RAIN_S = ["-6.08", "-4.93", "-33.69$^{*}$", "-7.4", "-15.65$^{*}$", "-36.25$^{*}$", "-30.73$^{*}$"]
RAIN_YLIM = [(658, 1945), (495, 1693), (612, 2505), (489, 1699), (709, 2012), (541, 2765), (520, 2729)]
RAIN_YTICKS = [[1000, 1500], [500, 1000, 1500], [1000, 2000], [500, 1000, 1500], [1000, 1500, 2000],
               [1000, 2000], [1000, 2000]]

# ---------------- drawing ----------------
W, H = 1032, 1236
fig = plt.figure(figsize=(W / 100, H / 100), dpi=100)
plt.rcParams['font.family'] = ['DejaVu Sans']


def px_axes(x0, top, w, h):
    return fig.add_axes([x0 / W, 1 - (top + h) / H, w / W, h / H])


def draw_panel(ax, boxes, fliers, trend, s_txt, idx, ylim, yticks, xlim, bottom):
    df = pd.DataFrame({"year": np.repeat(YEARS, 5), "value": np.ravel(boxes)})
    sns.boxplot(data=df, x="year", y="value", native_scale=True, whis=(0, 100), width=0.6,
                ax=ax, linewidth=1.0,
                boxprops=dict(facecolor="#ffaaaa", edgecolor="#ff8080"),
                medianprops=dict(color="#8a6ae0", linewidth=1.1),
                whiskerprops=dict(color="#b0b0ff", linewidth=1.0),
                capprops=dict(color="#d8a8e8", linewidth=1.0))
    if fliers:
        fy, flo, fhi = zip(*fliers)
        ax.vlines(fy, flo, fhi, color="#ff00ff", lw=1.6, alpha=0.85, zorder=3)
    sns.lineplot(x=[2001, 2022], y=list(trend), color="#222222", lw=1.0, ax=ax, zorder=4)
    for a in ax.patches + ax.lines + ax.collections:
        a.set_clip_on(True)
    ax.set_xlim(*xlim)
    ax.set_ylim(*ylim)
    ax.set_yticks(yticks)
    ax.set_xlabel("")
    ax.set_ylabel("")
    ax.tick_params(axis="y", labelsize=7.5, length=3.5, width=0.8, pad=2, colors="#222222")
    if bottom:
        ax.set_xticks(YEARS)
        ax.set_xticklabels([str(y) if y % 2 == 1 else "" for y in YEARS])
        ax.tick_params(axis="x", labelsize=7.5, length=5, width=0.8, pad=2, colors="#222222")
        ax.set_xlabel("year", fontsize=7.5, labelpad=2)
    else:
        ax.set_xticks([])
    for sp in ax.spines.values():
        sp.set_color("#444444")
        sp.set_linewidth(1.1)
    ax.text(0.01, 0.035, "S = " + s_txt, transform=ax.transAxes, fontsize=8.5, ha="left", va="bottom")
    ax.text(0.997, 0.035, f"({LETTERS[idx]}) {REGIONS[idx]}", transform=ax.transAxes,
            fontsize=8.5, ha="right", va="bottom")


groups = [
    dict(boxes=[ON_GMT, ON_BLZ, ON_SLV, ON_HND, ON_NIC, ON_CRI, ON_PAN],
         fliers=[ON_GMT_FL, ON_BLZ_FL, ON_SLV_FL, ON_HND_FL, ON_NIC_FL, ON_CRI_FL, ON_PAN_FL],
         trend=ONSET_TREND, s=ONSET_S, ylims=[(100, 160)] * 7, yticks=[[100, 120, 140, 160]] * 7,
         x0=92, w=427, top=10, pitch=84.0, h=70.5, xlim=(2000.49, 2022.33), unit="Julian Day",
         big="Season Onset", bigpos=(45, 340), tag="a)", tagpos=(27, 38)),
    dict(boxes=[DE_GMT, DE_BLZ, DE_SLV, DE_HND, DE_NIC, DE_CRI, DE_PAN],
         fliers=[DE_GMT_FL, DE_BLZ_FL, DE_SLV_FL, DE_HND_FL, DE_NIC_FL, DE_CRI_FL, DE_PAN_FL],
         trend=DEMISE_TREND, s=DEMISE_S, ylims=[(260, 320)] * 7, yticks=[[260, 280, 300, 320]] * 7,
         x0=92, w=427, top=624.7, pitch=84.05, h=70.6, xlim=(2000.49, 2022.33), unit="Julian Day",
         big="Season Demise", bigpos=(45, 950), tag="b)", tagpos=(27, 650)),
    dict(boxes=[LE_GMT, LE_BLZ, LE_SLV, LE_HND, LE_NIC, LE_CRI, LE_PAN],
         fliers=[LE_GMT_FL, LE_BLZ_FL, LE_SLV_FL, LE_HND_FL, LE_NIC_FL, LE_CRI_FL, LE_PAN_FL],
         trend=LENGTH_TREND, s=LENGTH_S, ylims=[(110.5, 209.5)] * 7, yticks=[[150, 200]] * 7,
         x0=604, w=428, top=7, pitch=83.85, h=74.5, xlim=(2000.49, 2022.38), unit="Length",
         big="Seasonal Length", bigpos=(557, 335), tag="c)", tagpos=(542, 38)),
    dict(boxes=[RA_GMT, RA_BLZ, RA_SLV, RA_HND, RA_NIC, RA_CRI, RA_PAN],
         fliers=[RA_GMT_FL, RA_BLZ_FL, RA_SLV_FL, RA_HND_FL, RA_NIC_FL, RA_CRI_FL, RA_PAN_FL],
         trend=RAIN_TREND, s=RAIN_S, ylims=RAIN_YLIM, yticks=RAIN_YTICKS,
         x0=604, w=428, top=624.7, pitch=84.5, h=70.5, xlim=(2000.49, 2022.38), unit="mm",
         big="Seasonal Rain", bigpos=(557, 950), tag="d)", tagpos=(534, 650)),
]

for g in groups:
    for i in range(7):
        ax = px_axes(g["x0"], g["top"] + i * g["pitch"], g["w"], g["h"])
        draw_panel(ax, g["boxes"][i], g["fliers"][i], g["trend"][i], g["s"][i], i,
                   g["ylims"][i], g["yticks"][i], g["xlim"], bottom=(i == 6))
        if i in (0, 6):
            ax.set_ylabel(g["unit"], fontsize=7 if i == 0 else 8, labelpad=3)
    fig.text(g["bigpos"][0] / W, 1 - g["bigpos"][1] / H, g["big"], rotation=90,
             fontsize=11, ha="center", va="center")
    fig.text(g["tagpos"][0] / W, 1 - g["tagpos"][1] / H, g["tag"], fontsize=35,
             ha="center", va="center", family=["Lato", "DejaVu Sans"])

fig.savefig("out.png", dpi=100)
